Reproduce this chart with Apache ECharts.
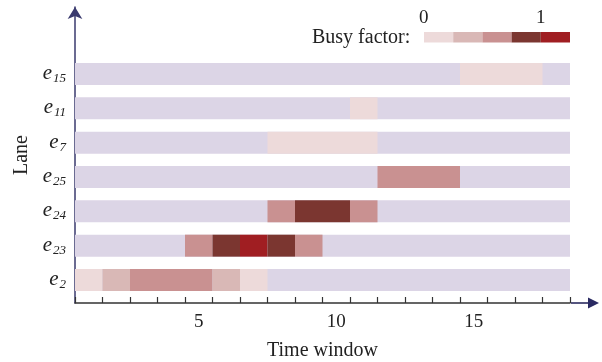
<!DOCTYPE html>
<html>
<head>
<meta charset="utf-8">
<script src="https://cdn.jsdelivr.net/npm/echarts@6/dist/echarts.min.js"></script>
<style>
  html, body { margin: 0; padding: 0; background: #fff; }
  #chart { width: 602px; height: 362px; }
</style>
</head>
<body>
<div id="chart"></div>
<script>
// Lanes listed bottom to top; each label is "e" with a subscript index
const laneIds = ['2', '23', '24', '25', '7', '11', '15'];

// Busy factor per time window (18 windows); null = lane idle
const busyE2  = [0, 0.25, 0.5, 0.5, 0.5, 0.25, 0, null, null, null, null, null, null, null, null, null, null, null];
const busyE23 = [null, null, null, null, 0.5, 0.75, 1, 0.75, 0.5, null, null, null, null, null, null, null, null, null];
const busyE24 = [null, null, null, null, null, null, null, 0.5, 0.75, 0.75, 0.5, null, null, null, null, null, null, null];
const busyE25 = [null, null, null, null, null, null, null, null, null, null, null, 0.5, 0.5, 0.5, null, null, null, null];
const busyE7  = [null, null, null, null, null, null, null, 0, 0, 0, 0, null, null, null, null, null, null, null];
const busyE11 = [null, null, null, null, null, null, null, null, null, null, 0, null, null, null, null, null, null, null];
const busyE15 = [null, null, null, null, null, null, null, null, null, null, null, null, null, null, 0, 0, 0, null];

const laneBusy = [busyE2, busyE23, busyE24, busyE25, busyE7, busyE11, busyE15];

const windowCount = 18;
const xTickLabels = ['5', '10', '15'];
const busyLevels = [0, 0.25, 0.5, 0.75, 1];
const busyColors = ['#eddada', '#d9b8b6', '#c99191', '#7b3630', '#a01e22'];
const idleColor = '#dcd5e6';

const FONT = '"Liberation Serif", "DejaVu Serif", serif';

// one full-length track per lane
const trackData = laneIds.map((id, i) => [0, windowCount, i]);

// runs of equal busy factor become one cell: [start, end, laneIndex, busy]
const cellData = [];
laneBusy.forEach((row, lane) => {
  let w = 0;
  while (w < row.length) {
    if (row[w] === null) { w++; continue; }
    let e = w + 1;
    while (e < row.length && row[e] === row[w]) e++;
    cellData.push([w, e, lane, row[w]]);
    w = e;
  }
});

const BAR_FRAC = 0.64;
const Y_MIN = -0.67;
const Y_MAX = 7.95;

function rectItem(params, api, color) {
  const a = api.coord([api.value(0), api.value(2)]);
  const b = api.coord([api.value(1), api.value(2)]);
  const h = api.size([0, BAR_FRAC])[1];
  return {
    type: 'rect',
    shape: { x: a[0], y: a[1] - h / 2, width: b[0] - a[0], height: h },
    style: { fill: color || api.visual('color') }
  };
}

const legendTexts = [
  { type: 'text', left: 312, top: 28, style: { text: 'Busy factor:', font: '20px ' + FONT, fill: '#222' } },
  { type: 'text', left: 419, top: 9, style: { text: '0', font: '19px ' + FONT, fill: '#222' } },
  { type: 'text', left: 536, top: 9, style: { text: '1', font: '19px ' + FONT, fill: '#222' } }
];

const chart = echarts.init(document.getElementById('chart'));

chart.setOption({
  animation: false,
  grid: { left: 75, right: 32, top: 7, bottom: 59, outerBoundsMode: 'none', containLabel: false },
  xAxis: {
    type: 'value',
    min: 0,
    max: windowCount,
    interval: 1,
    name: 'Time window',
    nameLocation: 'middle',
    nameGap: 38,
    nameTextStyle: { fontFamily: FONT, fontSize: 20, color: '#222' },
    axisLine: { show: true, onZero: false, lineStyle: { color: '#333', width: 1.5 } },
    axisTick: { show: true, inside: true, length: 6, lineStyle: { color: '#333', width: 1.2 } },
    axisLabel: {
      customValues: [4.5, 9.5, 14.5],
      formatter: v => xTickLabels[Math.round((v - 4.5) / 5)],
      fontFamily: FONT, fontSize: 19, color: '#222', margin: 10
    },
    splitLine: { show: false }
  },
  yAxis: {
    type: 'value',
    min: Y_MIN,
    max: Y_MAX,
    name: 'Lane',
    nameLocation: 'middle',
    nameGap: 41,
    nameRotate: 90,
    nameTextStyle: { fontFamily: FONT, fontSize: 20, color: '#222' },
    axisLine: {
      show: true,
      onZero: false,
      symbol: ['none', 'arrow'],
      symbolSize: [11, 12],
      lineStyle: { color: '#3a3a6e', width: 1.5 }
    },
    axisTick: { show: false },
    splitLine: { show: false },
    axisLabel: {
      customValues: [0, 1, 2, 3, 4, 5, 6],
      formatter: v => '{e|e}{s|' + laneIds[Math.round(v)] + '}',
      margin: 9,
      rich: {
        e: { fontFamily: FONT, fontStyle: 'italic', fontSize: 21, color: '#222', verticalAlign: 'top', lineHeight: 22 },
        s: { fontFamily: FONT, fontStyle: 'italic', fontSize: 13, color: '#222', verticalAlign: 'bottom', lineHeight: 14, padding: [12, 0, 0, 1] }
      }
    }
  },
  visualMap: {
    type: 'piecewise',
    seriesIndex: 1,
    dimension: 3,
    orient: 'horizontal',
    left: 409,
    top: 17,
    itemWidth: 29.2,
    itemHeight: 10.5,
    itemGap: 0,
    itemSymbol: 'rect',
    showLabel: false,
    selectedMode: false,
    hoverLink: false,
    pieces: busyLevels.map((v, i) => ({ value: v, color: busyColors[i] }))
  },
  graphic: legendTexts,
  series: [
    {
      type: 'custom',
      name: 'idle',
      data: trackData,
      encode: { x: [0, 1], y: 2 },
      renderItem: (p, api) => rectItem(p, api, idleColor),
      silent: true,
      z: 1
    },
    {
      type: 'custom',
      name: 'busy',
      data: cellData,
      encode: { x: [0, 1], y: 2 },
      renderItem: (p, api) => rectItem(p, api),
      silent: true,
      z: 2
    }
  ]
});

// arrow continuing the time axis past its last window
const end = chart.convertToPixel({ xAxisIndex: 0 }, windowCount);
const base = chart.convertToPixel({ yAxisIndex: 0 }, Y_MIN);
chart.setOption({
  graphic: legendTexts.concat([
    {
      type: 'line',
      shape: { x1: end + 1, y1: base, x2: end + 20, y2: base },
      style: { stroke: '#55557f', lineWidth: 2 }
    },
    {
      type: 'polygon',
      shape: { points: [[end + 18, base - 5.5], [end + 29, base], [end + 18, base + 5.5]] },
      style: { fill: '#2a2a62' }
    }
  ])
}, { replaceMerge: ['graphic'] });
</script>
</body>
</html>
